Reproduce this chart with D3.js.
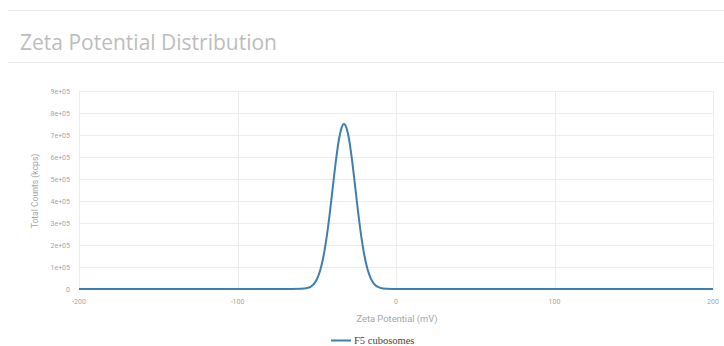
<!DOCTYPE html>
<html><head><meta charset="utf-8">
<script src="https://cdn.jsdelivr.net/npm/d3@7"></script>
<style>body{margin:0;background:#fff}</style>
</head><body>
<svg id="c" width="724" height="346"></svg>
<script>
const title = "Zeta Potential Distribution";
const seriesName = "F5 cubosomes";
const xTicks = [-200, -100, 0, 100, 200];
const yTicks = [0,100000,200000,300000,400000,500000,600000,700000,800000,900000];
const zeta = [-200,-100,-66,-60,-56,-52,-50,-48,-46,-44,-42,-40,-38,-36,-34,-33,-32,-30,-28,-26,-24,-22,-20,-18,-16,-14,-10,-6,-2,0,100,200];
const counts = [0,0,0,600,4200,21400,43300,80800,139600,223700,331600,454900,577800,679400,739600,750000,745400,695400,600500,480200,355400,243500,154400,90700,49300,24800,5000,700,0,0,0,0];

const svg = d3.select("#c");
svg.append("line").attr("x1",8).attr("x2",724).attr("y1",10.5).attr("y2",10.5).attr("stroke","#e8e8e8");
svg.append("line").attr("x1",8).attr("x2",724).attr("y1",62.5).attr("y2",62.5).attr("stroke","#e8e8e8");
svg.append("text").attr("x",20).attr("y",50).attr("font-family","Open Sans").attr("font-size",21)
  .attr("fill","#bdbdbd").text(title);

const x = d3.scaleLinear().domain([-200,200]).range([79,713]);
const y = d3.scaleLinear().domain([0,900000]).range([289,91]);

const grid = svg.append("g");
grid.selectAll("line.h").data(yTicks.slice(1)).join("line")
  .attr("x1",79).attr("x2",713).attr("y1",d=>Math.round(y(d))+0.5).attr("y2",d=>Math.round(y(d))+0.5)
  .attr("stroke","#ececec");
grid.selectAll("line.v").data(xTicks).join("line")
  .attr("x1",d=>Math.round(x(d))+0.5).attr("x2",d=>Math.round(x(d))+0.5).attr("y1",91).attr("y2",289)
  .attr("stroke","#ececec");

const fmt = d => d===0 ? "0" : d3.format(".0e")(d).replace(/e\+(\d)$/,"e+0$1");
svg.append("g").selectAll("text").data(yTicks).join("text")
  .attr("x",70).attr("y",d=>y(d)+2.5).attr("text-anchor","end")
  .attr("font-family","Roboto").attr("font-size",7).attr("fill","#a6a6a6").text(fmt);
svg.append("g").selectAll("text").data(xTicks).join("text")
  .attr("x",d=>x(d)).attr("y",304).attr("text-anchor","middle")
  .attr("font-family","Roboto").attr("font-size",7).attr("fill","#a6a6a6").text(d=>d);

svg.append("text").attr("transform","translate(38,191) rotate(-90)").attr("text-anchor","middle")
  .attr("font-family","Roboto").attr("font-size",8.6).attr("fill","#a6a6a6").text("Total Counts (kcps)");
svg.append("text").attr("x",397).attr("y",322).attr("text-anchor","middle")
  .attr("font-family","Roboto").attr("font-size",9.4).attr("fill","#a6a6a6").text("Zeta Potential (mV)");

const data = zeta.map((z,i)=>({z, c: counts[i]}));
const line = d3.line().x(d=>x(d.z)).y(d=>y(d.c)).curve(d3.curveMonotoneX);
svg.append("path").datum(data).attr("d",line).attr("fill","none")
  .attr("stroke","#3f7fb0").attr("stroke-width",2);

svg.append("line").attr("x1",331).attr("x2",351).attr("y1",340.5).attr("y2",340.5)
  .attr("stroke","#3f7fb0").attr("stroke-width",2);
svg.append("text").attr("x",354).attr("y",343.5).attr("font-family","Liberation Serif").attr("font-size",10.5)
  .attr("fill","#444").text(seriesName);
</script>
</body></html>
